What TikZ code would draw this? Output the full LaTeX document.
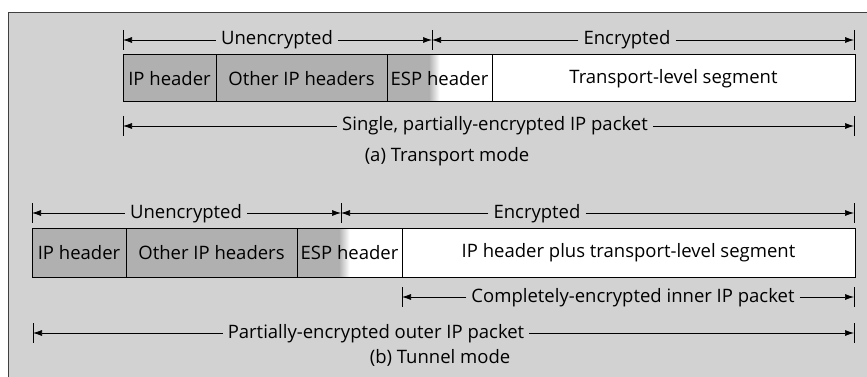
\documentclass[tikz,border=0pt]{standalone}
\usepackage{fontspec}
\setmainfont{Open Sans}
\usetikzlibrary{arrows.meta,calc}
\definecolor{bg}{RGB}{210,210,210}
\definecolor{cellg}{RGB}{176,176,176}
\begin{document}
\begin{tikzpicture}[x=1pt,y=-1pt,
  font=\fontsize{18.5}{21}\selectfont,
  cell/.style={draw, line width=1pt, inner sep=0pt, outer sep=0pt, anchor=north west},
  cellgrey/.style={fill=cellg},
  cellwhite/.style={fill=white},
  espcell/.style={fill=white, path picture={
      \fill[cellg] (path picture bounding box.south west) rectangle ($(path picture bounding box.north west)!0.40!(path picture bounding box.north east)$);
      \shade[left color=cellg, right color=white] ($(path picture bounding box.south west)!0.399!(path picture bounding box.south east)$) rectangle ($(path picture bounding box.north west)!0.50!(path picture bounding box.north east)$);
  }},
  lbl/.style={inner sep=5pt, text height=10pt, text depth=0pt},
  dim/.style={line width=0.7pt, -{Latex[length=9pt,width=6pt]}},
  tickmark/.style={line width=0.8pt},
  captxt/.style={inner sep=0pt}
]
\useasboundingbox (0,0) rectangle (867,377);
\fill[bg] (8,12) rectangle (867,377);
\draw[line width=0.8pt, black!75] (8,377) -- (8,12) -- (867,12);

% ---------- (a) Transport mode ----------
\coordinate (a1l) at (123,40);
\coordinate (a1m) at (432,40);
\coordinate (a1r) at (854,40);
\node[lbl] (u1) at (277,40) {Unencrypted};
\node[lbl] (e1) at (627,40) {Encrypted};
\draw[dim] (u1.west) -- (a1l);
\draw[dim] (u1.east) -- (a1m);
\draw[dim] (e1.west) -- (a1m);
\draw[dim] (e1.east) -- (a1r);
\foreach \c in {a1l,a1m,a1r} \draw[tickmark] (\c) +(0,-10) -- +(0,10);

\node[cell, cellgrey, minimum width=93pt, minimum height=47pt] (ip1) at (123,55) {IP header};
\node[cell, cellgrey, minimum width=171pt, minimum height=47pt] (oth1) at (ip1.north east) {Other IP headers};
\node[cell, espcell, minimum width=105pt, minimum height=47pt] (esp1) at (oth1.north east) {ESP header};
\node[cell, cellwhite, minimum width=363pt, minimum height=47pt] (seg1) at (esp1.north east) {Transport-level segment};

\coordinate (b1l) at (123,126);
\coordinate (b1r) at (854,126);
\node[lbl] (s1) at (495,126) {Single, partially-encrypted IP packet};
\draw[dim] (s1.west) -- (b1l);
\draw[dim] (s1.east) -- (b1r);
\foreach \c in {b1l,b1r} \draw[tickmark] (\c) +(0,-10) -- +(0,10);

\node[captxt] (capa) at (447,157) {(a) Transport mode};

% ---------- (b) Tunnel mode ----------
\coordinate (a2l) at (32,213);
\coordinate (a2m) at (341,213);
\coordinate (a2r) at (854,213);
\node[lbl] (u2) at (186,213) {Unencrypted};
\node[lbl] (e2) at (537,213) {Encrypted};
\draw[dim] (u2.west) -- (a2l);
\draw[dim] (u2.east) -- (a2m);
\draw[dim] (e2.west) -- (a2m);
\draw[dim] (e2.east) -- (a2r);
\foreach \c in {a2l,a2m,a2r} \draw[tickmark] (\c) +(0,-10) -- +(0,10);

\node[cell, cellgrey, minimum width=94pt, minimum height=49pt] (ip2) at (32,228) {IP header};
\node[cell, cellgrey, minimum width=171pt, minimum height=49pt] (oth2) at (ip2.north east) {Other IP headers};
\node[cell, espcell, minimum width=105pt, minimum height=49pt] (esp2) at (oth2.north east) {ESP header};
\node[cell, cellwhite, minimum width=453pt, minimum height=49pt] (seg2) at (esp2.north east) {IP header plus transport-level segment};

\coordinate (c2l) at (402,297);
\coordinate (c2r) at (854,297);
\node[lbl] (ci2) at (633,297) {Completely-encrypted inner IP packet};
\draw[dim] (ci2.west) -- (c2l);
\draw[dim] (ci2.east) -- (c2r);
\foreach \c in {c2l,c2r} \draw[tickmark] (\c) +(0,-10) -- +(0,10);

\coordinate (d2l) at (33,333);
\coordinate (d2r) at (854,333);
\node[lbl] (po2) at (376,333) {Partially-encrypted outer IP packet};
\draw[dim] (po2.west) -- (d2l);
\draw[dim] (po2.east) -- (d2r);
\foreach \c in {d2l,d2r} \draw[tickmark] (\c) +(0,-10) -- +(0,10);

\node[captxt] (capb) at (440,358) {(b) Tunnel mode};
\end{tikzpicture}
\end{document}
